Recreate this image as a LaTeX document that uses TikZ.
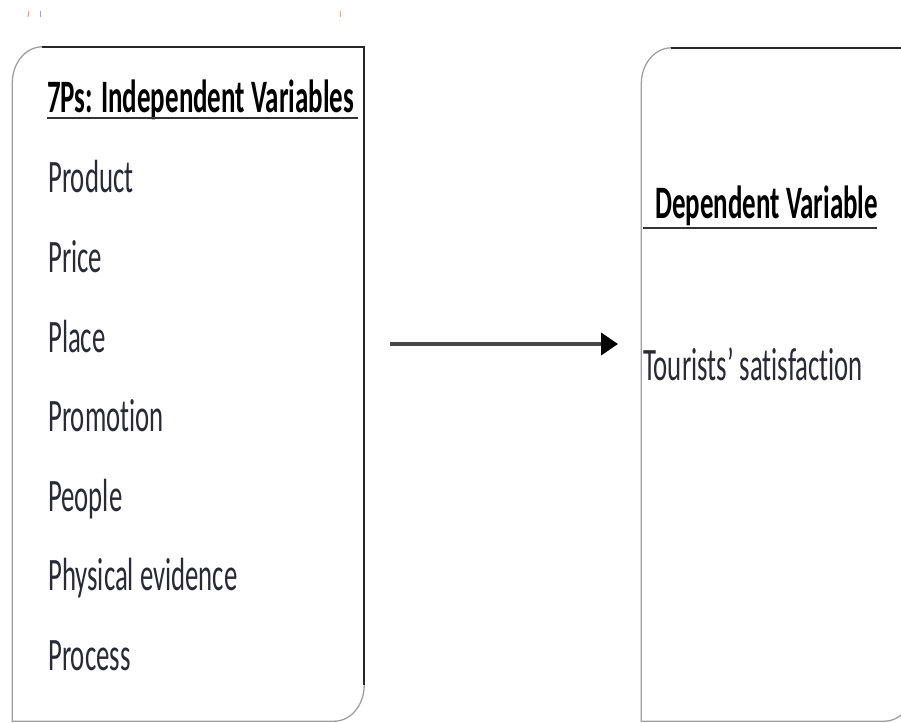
\documentclass[tikz,border=0pt]{standalone}
\usepackage{fontspec}
\setmainfont{Carlito}
\newfontfamily\regfont[FakeStretch=0.575, Ligatures={NoCommon}]{Carlito}
\newfontfamily\headfont[FakeStretch=0.58, Ligatures={NoCommon}]{Carlito}
\usetikzlibrary{arrows.meta}
\definecolor{txt}{rgb}{0.16,0.16,0.22}
\tikzset{
  item/.style={anchor=base west, inner sep=0pt, text=txt, font=\regfont\fontsize{46.5}{50}\selectfont},
  head/.style={anchor=base west, inner sep=0pt, text=black, font=\headfont\bfseries\fontsize{46.5}{50}\selectfont},
  boxline/.style={draw=gray!75, line width=1.3pt},
  boxedge/.style={draw=black!85, line width=1.7pt},
  uline/.style={draw=black!80, line width=1.8pt},
  conn/.style={draw=black!72, line width=4pt, -{Triangle[length=17pt,width=22pt,color=black]}},
  frag/.style={line width=1pt}
}
\begin{document}
\begin{tikzpicture}[x=1pt,y=-1pt]
\useasboundingbox (0,0) rectangle (901,722);
\clip (0,0) rectangle (901,722);
\fill[white] (0,0) rectangle (901,722);
% fragments at top
\draw[frag, draw=red!45] (29,11) -- (28,17);
\draw[frag, draw=blue!40] (40.5,11) -- (40.5,17);
\draw[frag, draw=orange!70] (340.5,11) -- (340.5,17);
% left box
\node[inner sep=0pt, minimum width=351.5pt, minimum height=674pt] (L) at (188.25,384) {};
\draw[boxline] (L.north west) ++(0,36) arc[start angle=180, end angle=270, x radius=30, y radius=36]
  -- (L.north east) -- ([yshift=36pt]L.south east)
  arc[start angle=0, end angle=90, x radius=30, y radius=36] -- (L.south west) -- cycle;
\draw[boxedge] ([xshift=30pt]L.north west) -- (L.north east) -- ([yshift=36pt]L.south east);
% right box
\node[inner sep=0pt, minimum width=272.5pt, minimum height=673pt] (R) at (777.75,384.5) {};
\draw[boxline] (R.north west) ++(0,36) arc[start angle=180, end angle=270, x radius=30, y radius=36]
  -- (R.north east) -- ([yshift=36pt]R.south east)
  arc[start angle=0, end angle=90, x radius=30, y radius=36] -- (R.south west) -- cycle;
\draw[boxedge] ([xshift=30pt]R.north west) -- (R.north east);
% left texts
\node[head] (h1) at (47,113) {7Ps: Independent Variables};
\draw[uline] (h1.base west) ++(0,5) -- ++(311,0);
\node[item] (i1) at (48,193) {Product};
\node[item] (i2) at (48,272.5) {Price};
\node[item] (i3) at (48,352) {Place};
\node[item] (i4) at (48,431.5) {Promotion};
\node[item] (i5) at (48,511) {People};
\node[item] (i6) at (48,590.5) {Physical evidence};
\node[item] (i7) at (48,670) {Process};
% right texts
\node[head] (h2) at (655,218) {Dependent Variable};
\draw[uline] (643,228) -- (877,228);
\node[item] (t1) at (643,380) {Tourists’ satisfaction};
% arrow
\coordinate (as) at (390,344);
\coordinate (ae) at (618,344);
\draw[conn] (as) -- (ae);
\end{tikzpicture}
\end{document}
